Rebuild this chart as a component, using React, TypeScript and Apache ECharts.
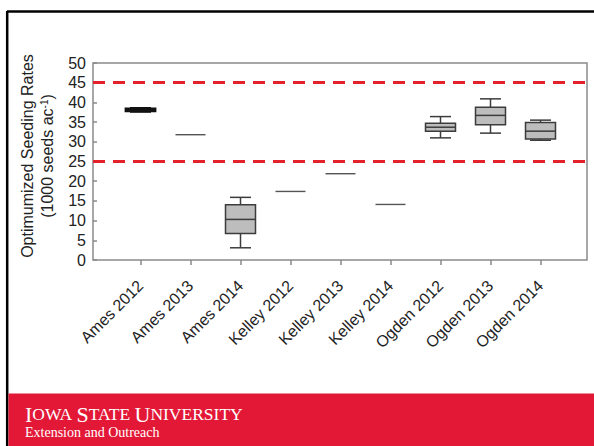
import React, { useEffect, useRef } from "react";
import * as echarts from "echarts";

const categories = [
  "Ames 2012", "Ames 2013", "Ames 2014",
  "Kelley 2012", "Kelley 2013", "Kelley 2014",
  "Ogden 2012", "Ogden 2013", "Ogden 2014",
];
const whiskerLow = [37.6, 31.8, 3.1, 17.4, 21.9, 14.1, 31.0, 32.2, 30.4];
const quartile1 = [37.7, 31.8, 6.7, 17.4, 21.9, 14.1, 32.7, 34.3, 30.7];
const medians = [38.1, 31.8, 10.3, 17.4, 21.9, 14.1, 33.7, 36.7, 32.7];
const quartile3 = [38.5, 31.8, 14.0, 17.4, 21.9, 14.1, 34.7, 38.8, 34.9];
const whiskerHigh = [38.6, 31.8, 15.9, 17.4, 21.9, 14.1, 36.4, 40.9, 35.5];
const targetRange = [25, 45];
const yTicks = { min: 0, max: 50, interval: 5 };

export default function App() {
  const ref = useRef<HTMLDivElement>(null);
  useEffect(() => {
    document.body.style.margin = "0";
    const chart = echarts.init(ref.current!, null, { renderer: "svg" });
    const boxData = categories.map((_, i) => [
      i, whiskerLow[i], quartile1[i], medians[i], quartile3[i], whiskerHigh[i],
    ]);
    const axisGray = "#8a8a8a";
    const textColor = "#222";
    const sans = "'Liberation Sans', Arial, sans-serif";
    const serif = "'Liberation Serif', 'Times New Roman', serif";
    chart.setOption({
      animation: false,
      backgroundColor: "#fff",
      grid: [
        { left: 93, top: 63, width: 494, height: 197, show: true, borderColor: axisGray, borderWidth: 1.5, backgroundColor: "transparent" },
        { left: 115.5, top: 63, width: 450, height: 197 },
      ],
      xAxis: [
        { type: "value", gridIndex: 0, min: 0, max: 1, show: false },
        {
          type: "category", gridIndex: 1, data: categories,
          axisLine: { show: false },
          axisTick: { show: true, alignWithLabel: true, length: 5, lineStyle: { color: axisGray, width: 1.5 } },
          axisLabel: { rotate: 45, fontSize: 16, color: textColor, fontFamily: sans, margin: 23 },
        },
      ],
      yAxis: [
        {
          type: "value", gridIndex: 0, min: yTicks.min, max: yTicks.max, interval: yTicks.interval,
          axisLine: { show: false },
          axisTick: { show: true, inside: true, length: 4, lineStyle: { color: axisGray, width: 1.5 } },
          axisLabel: { fontSize: 16, color: textColor, fontFamily: sans, margin: 7 },
          splitLine: { show: false },
        },
        { type: "value", gridIndex: 1, min: yTicks.min, max: yTicks.max, show: false },
      ],
      series: [
        {
          type: "line", xAxisIndex: 0, yAxisIndex: 0, data: [],
          markLine: {
            silent: true, symbol: "none", label: { show: false },
            lineStyle: { color: "#e4202b", width: 3, type: [12, 8] },
            data: targetRange.map((v) => ({ yAxis: v })),
          },
        },
        {
          type: "custom", xAxisIndex: 1, yAxisIndex: 1,
          encode: { x: 0, y: [1, 2, 3, 4, 5] },
          data: boxData,
          renderItem: (params: any, api: any) => {
            const i = api.value(0);
            const band = api.size([1, 0])[0];
            const bw = band * 0.6;
            const cw = band * 0.42;
            const pLo = api.coord([i, api.value(1)]);
            const pQ1 = api.coord([i, api.value(2)]);
            const pMed = api.coord([i, api.value(3)]);
            const pQ3 = api.coord([i, api.value(4)]);
            const pHi = api.coord([i, api.value(5)]);
            const cx = pMed[0];
            const narrow = api.value(5) - api.value(1) < 2;
            const stroke = narrow ? "#111" : "#3c3c3c";
            const lw = narrow ? 1.8 : 1.5;
            const children: any[] = [];
            const single = api.value(1) === api.value(5);
            if (single) {
              children.push({
                type: "line",
                shape: { x1: cx - bw / 2, y1: pMed[1], x2: cx + bw / 2, y2: pMed[1] },
                style: { stroke: "#555", lineWidth: 1.4 },
              });
              return { type: "group", children };
            }
            children.push({ type: "line", shape: { x1: cx, y1: pLo[1], x2: cx, y2: pQ1[1] }, style: { stroke, lineWidth: lw } });
            children.push({ type: "line", shape: { x1: cx, y1: pQ3[1], x2: cx, y2: pHi[1] }, style: { stroke, lineWidth: lw } });
            children.push({ type: "line", shape: { x1: cx - cw / 2, y1: pLo[1], x2: cx + cw / 2, y2: pLo[1] }, style: { stroke, lineWidth: lw } });
            children.push({ type: "line", shape: { x1: cx - cw / 2, y1: pHi[1], x2: cx + cw / 2, y2: pHi[1] }, style: { stroke, lineWidth: lw } });
            children.push({
              type: "rect",
              shape: { x: cx - bw / 2, y: pQ3[1], width: bw, height: pQ1[1] - pQ3[1] },
              style: { fill: narrow ? "#333" : "#bdbdbd", stroke, lineWidth: lw },
            });
            children.push({ type: "line", shape: { x1: cx - bw / 2, y1: pMed[1], x2: cx + bw / 2, y2: pMed[1] }, style: { stroke, lineWidth: lw } });
            return { type: "group", children };
          },
        },
      ],
      graphic: [
        { type: "line", shape: { x1: 7, y1: 11.5, x2: 594, y2: 11.5 }, style: { stroke: "#000", lineWidth: 2.5 } },
        { type: "line", shape: { x1: 7.2, y1: 11, x2: 7.2, y2: 446 }, style: { stroke: "#000", lineWidth: 2.5 } },
        { type: "rect", shape: { x: 8.5, y: 393.5, width: 586, height: 53 }, style: { fill: "#e31837" } },
        {
          type: "text", x: 25, y: 425,
          style: {
            text: "{b|I}{s|OWA} {b|S}{s|TATE} {b|U}{s|NIVERSITY}",
            rich: {
              b: { fontSize: 22, fontFamily: serif, fill: "#fff" },
              s: { fontSize: 17.5, fontFamily: serif, fill: "#fff" },
            },
            font: `17.5px ${serif}`,
            fill: "#fff", verticalAlign: "bottom",
          },
        },
        {
          type: "text", x: 25, y: 439,
          style: { text: "Extension and Outreach", font: `14px ${serif}`, fill: "#fff", verticalAlign: "bottom" },
        },
        {
          type: "text", x: 27, y: 156, rotation: Math.PI / 2,
          style: { text: "Optimumized Seeding Rates", font: `16px ${sans}`, fill: textColor, align: "center", verticalAlign: "middle" },
        },
        {
          type: "text", x: 47, y: 156, rotation: Math.PI / 2,
          style: {
            text: "(1000 seeds ac{sup|-1})",
            font: `16px ${sans}`, fill: textColor, align: "center", verticalAlign: "middle",
            rich: {
              sup: { fontSize: 10, fontFamily: sans, fill: textColor, verticalAlign: "top", lineHeight: 10 },
            },
          },
        },
      ],
    });
    return () => chart.dispose();
  }, []);
  return <div ref={ref} style={{ position: "absolute", left: 0, top: 0, width: 594, height: 446 }} />;
}
